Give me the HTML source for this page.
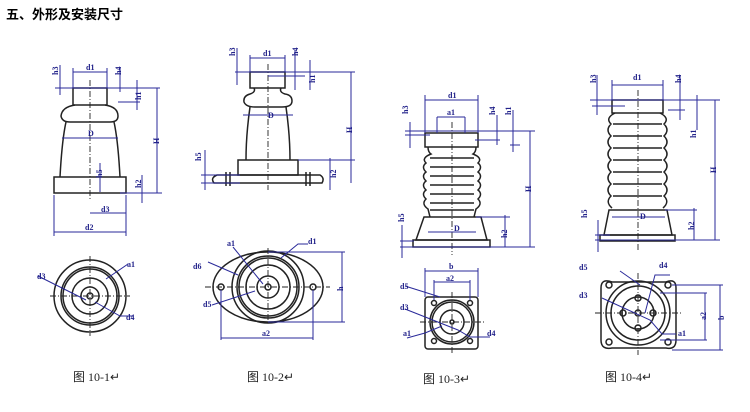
<!DOCTYPE html>
<html><head><meta charset="utf-8"><style>
html,body{margin:0;padding:0;background:#fff;width:750px;height:412px;overflow:hidden}
svg{display:block}
.t{font-family:"Liberation Serif","Noto Serif CJK SC",serif;font-weight:bold;fill:#22228a;font-size:8px}
.cap{font-family:"Liberation Serif","Noto Sans CJK SC",serif;font-size:12px;fill:#222}
</style></head><body>
<svg width="750" height="412" viewBox="0 0 750 412" xmlns="http://www.w3.org/2000/svg">
<text x="6" y="19" style="font-family:'Liberation Sans','Noto Sans CJK SC',sans-serif;font-weight:bold;font-size:13px">五、外形及安装尺寸</text>
<g fill="none" stroke="#222" stroke-width="1.5">
<rect x="73" y="88" width="34" height="17"/>
<path d="M75,105 Q62,107 61,116 Q62,122 70,122 L110,122 Q118,122 118,116 Q118,107 105,105"/>
<path d="M66,122 Q62,140 60,177 M114,122 Q118,140 120,177"/>
<rect x="54" y="177" width="72" height="16"/>
<rect x="250" y="72" width="35" height="16"/>
<path d="M254,88 Q256,92 250,94 Q243,96 244,102 Q246,107 255,107 L282,107 Q292,107 292,101 Q292,95 285,94 Q279,92 281,88"/>
<path d="M250,107 Q246,135 246,160 M286,107 Q290,135 290,160"/>
<rect x="238" y="160" width="60" height="15"/>
<path d="M217,175 L320,175 Q325,178 322,183 L214,183 Q210,178 217,175Z"/>
<path d="M226,172 V186 M230,172 V186 M306,172 V186 M310,172 V186"/>
<rect x="425" y="133" width="53" height="14"/>
<path d="M428,147 Q428,152 431,154 Q421,158 426,163 Q421,167 426,172 Q421,176 426,181 Q421,185 426,190 Q421,194 426,199 Q421,204 428,209 L430,217 M476,147 Q476,152 473,154 Q483,158 478,163 Q483,167 478,172 Q483,176 478,181 Q483,185 478,190 Q483,194 478,199 Q483,204 476,209 L474,217"/>
<path d="M430,158 H474 M430,167 H474 M430,176 H474 M430,185 H474 M430,194 H474 M430,203 H474 M430,210 H474"/>
<path d="M424,217 H481 L487,240 H416 Z"/>
<rect x="413" y="240" width="77" height="7"/>
<rect x="612" y="100" width="51" height="13"/>
<path d="M615,113 Q605,118 611,124 Q605,130 611,136 Q605,142 611,148 Q605,154 611,160 Q605,166 611,172 Q605,178 611,184 Q605,190 611,196 Q605,202 612,208 M660,113 Q670,118 664,124 Q670,130 664,136 Q670,142 664,148 Q670,154 664,160 Q670,166 664,172 Q670,178 664,184 Q670,190 664,196 Q670,202 663,208"/>
<path d="M613,124 H662 M613,136 H662 M613,148 H662 M613,160 H662 M613,172 H662 M613,184 H662 M613,196 H662"/>
<path d="M609,210 H667 L672,235 H604 Z"/>
<rect x="600" y="235" width="75" height="6"/>
<circle cx="90" cy="296" r="36"/><circle cx="90" cy="296" r="29"/><circle cx="90" cy="296" r="27"/><circle cx="90" cy="296" r="18"/><circle cx="90" cy="296" r="9"/><circle cx="90" cy="296" r="3"/>
<ellipse cx="268" cy="287" rx="55" ry="35"/><circle cx="268" cy="287" r="36"/><circle cx="268" cy="287" r="31"/><circle cx="268" cy="287" r="29"/><circle cx="268" cy="287" r="22"/><circle cx="268" cy="287" r="11"/><circle cx="268" cy="287" r="3"/>
<circle cx="221" cy="287" r="3"/><circle cx="313" cy="287" r="3"/>
<rect x="425" y="297" width="53" height="52" rx="3"/><circle cx="452" cy="322" r="22"/><circle cx="452" cy="322" r="20"/><circle cx="452" cy="322" r="12"/><circle cx="452" cy="322" r="2"/>
<circle cx="434" cy="303" r="2.5"/><circle cx="470" cy="303" r="2.5"/><circle cx="434" cy="341" r="2.5"/><circle cx="470" cy="341" r="2.5"/>
<path d="M612,282 H666 Q676,278 676,288 V340 Q676,350 666,348 H612 Q601,350 601,340 V288 Q601,278 612,282Z"/>
<circle cx="638" cy="313" r="32"/><circle cx="638" cy="313" r="27"/><circle cx="638" cy="313" r="16"/><circle cx="638" cy="313" r="3"/>
<circle cx="638" cy="298" r="3"/><circle cx="638" cy="328" r="3"/><circle cx="623" cy="313" r="3"/><circle cx="653" cy="313" r="3"/>
<circle cx="609" cy="285" r="3"/><circle cx="668" cy="285" r="3"/><circle cx="609" cy="342" r="3"/><circle cx="668" cy="342" r="3"/>
</g>
<g stroke="#222" stroke-width="0.9" stroke-dasharray="6,2,1,2" fill="none">
<path d="M90,80 V200 M268,64 V190 M452,122 V255 M638,90 V250"/>
<path d="M90,256 V336 M50,296 H130 M268,248 V325 M205,287 H330 M452,292 V355 M420,322 H485 M638,273 V355 M595,313 H682"/>
</g>
<g stroke="#2a2a9a" stroke-width="1" fill="none">
<path d="M73,72 H107 M73,68 V88 M107,68 V88 M55,88 H160 M60,65 V95 M120,68 V92 M118,102 H140 M137,80 V110 M157,88 V193 M120,193 H162 M142,175 V203 M100,163 V192 M62,138 H118 M90,213 H126 M54,232 H126 M54,195 V236 M126,195 V236"/>
<path d="M250,58 H285 M250,55 V72 M285,55 V72 M235,72 H355 M237,48 V85 M295,50 V90 M268,76 H305 M310,60 V90 M351,72 V183 M298,160 H355 M330,158 V190 M201,175 H240 M201,183 H240 M205,150 V190 M243,115 H293 M221,290 V340 M313,290 V340 M221,338 H313 M268,252 H345 M268,322 H345 M342,252 V322"/>
<path d="M425,100 H478 M425,95 V133 M478,95 V133 M437,117 H465 M437,117 V133 M465,117 V133 M405,131 H535 M405,135 H430 M410,122 V148 M475,140 H500 M497,115 V145 M510,145 H520 M513,110 V152 M530,131 V247 M476,217 H510 M505,215 V247 M400,241 H414 M400,247 H535 M402,225 V258 M428,232 H476 M425,271 H478 M425,268 V297 M478,268 V297 M434,282 H470 M434,280 V300 M470,280 V300"/>
<path d="M612,85 H663 M612,80 V100 M663,80 V100 M590,100 H720 M592,106 H625 M597,75 V115 M668,110 H685 M680,75 V120 M697,95 V130 M715,100 V240 M665,210 H697 M694,208 V240 M595,235 H610 M595,240 H720 M598,220 V252 M612,217 H665 M672,285 H723 M672,350 H723 M720,285 V350 M660,293 H707 M660,340 H707 M705,293 V340"/>
<path d="M38,276 L86,300 M106,279 L128,264 M95,302 L120,316 H133 M208,262 L238,275 M212,305 L255,291 M233,247 L263,284 M281,258 L298,244 H308 M405,286 L440,297 M405,309 L458,330 L470,337 H490 M407,338 L425,333 L442,326 M620,271 L640,285 M602,298 L650,320 L662,334 H676 M645,313 L655,275 H670"/>
</g>
<g class="t">
<text x="52" y="75" transform="rotate(-90 55 72)">h3</text>
<text x="86" y="70">d1</text>
<text x="115" y="75" transform="rotate(-90 118 72)">h4</text>
<text x="135" y="100" transform="rotate(-90 138 97)">h1</text>
<text x="153" y="144" transform="rotate(-90 156 141)">H</text>
<text x="88" y="136">D</text>
<text x="96" y="178" transform="rotate(-90 99 175)">h5</text>
<text x="135" y="188" transform="rotate(-90 138 185)">h2</text>
<text x="101" y="212">d3</text>
<text x="85" y="230">d2</text>
<text x="229" y="56" transform="rotate(-90 232 53)">h3</text>
<text x="263" y="56">d1</text>
<text x="292" y="56" transform="rotate(-90 295 53)">h4</text>
<text x="309" y="83" transform="rotate(-90 312 80)">h1</text>
<text x="346" y="133" transform="rotate(-90 349 130)">H</text>
<text x="268" y="118">D</text>
<text x="195" y="161" transform="rotate(-90 198 158)">h5</text>
<text x="330" y="178" transform="rotate(-90 333 175)">h2</text>
<text x="448" y="98">d1</text>
<text x="447" y="115">a1</text>
<text x="402" y="114" transform="rotate(-90 405 111)">h3</text>
<text x="489" y="115" transform="rotate(-90 492 112)">h4</text>
<text x="505" y="115" transform="rotate(-90 508 112)">h1</text>
<text x="525" y="192" transform="rotate(-90 528 189)">H</text>
<text x="454" y="231">D</text>
<text x="398" y="222" transform="rotate(-90 401 219)">h5</text>
<text x="501" y="238" transform="rotate(-90 504 235)">h2</text>
<text x="633" y="80">d1</text>
<text x="590" y="83" transform="rotate(-90 593 80)">h3</text>
<text x="675" y="83" transform="rotate(-90 678 80)">h4</text>
<text x="690" y="138" transform="rotate(-90 693 135)">h1</text>
<text x="710" y="173" transform="rotate(-90 713 170)">H</text>
<text x="640" y="219">D</text>
<text x="581" y="218" transform="rotate(-90 584 215)">h5</text>
<text x="688" y="230" transform="rotate(-90 691 227)">h2</text>
<text x="37" y="279">d3</text>
<text x="127" y="267">a1</text>
<text x="126" y="320">d4</text>
<text x="193" y="269">d6</text>
<text x="227" y="246">a1</text>
<text x="308" y="244">d1</text>
<text x="203" y="307">d5</text>
<text x="262" y="336">a2</text>
<text x="337" y="291" transform="rotate(-90 340 288)">h</text>
<text x="449" y="269">b</text>
<text x="446" y="281">a2</text>
<text x="400" y="289">d5</text>
<text x="400" y="310">d3</text>
<text x="403" y="336">a1</text>
<text x="487" y="336">d4</text>
<text x="579" y="270">d5</text>
<text x="579" y="298">d3</text>
<text x="659" y="268">d4</text>
<text x="678" y="336">a1</text>
<text x="700" y="320" transform="rotate(-90 703 317)">a2</text>
<text x="718" y="320" transform="rotate(-90 721 317)">b</text>
</g>
<text class="cap" x="73" y="381">图 10-1↵</text>
<text class="cap" x="247" y="381">图 10-2↵</text>
<text class="cap" x="423" y="383">图 10-3↵</text>
<text class="cap" x="605" y="381">图 10-4↵</text>
</svg>
</body></html>
